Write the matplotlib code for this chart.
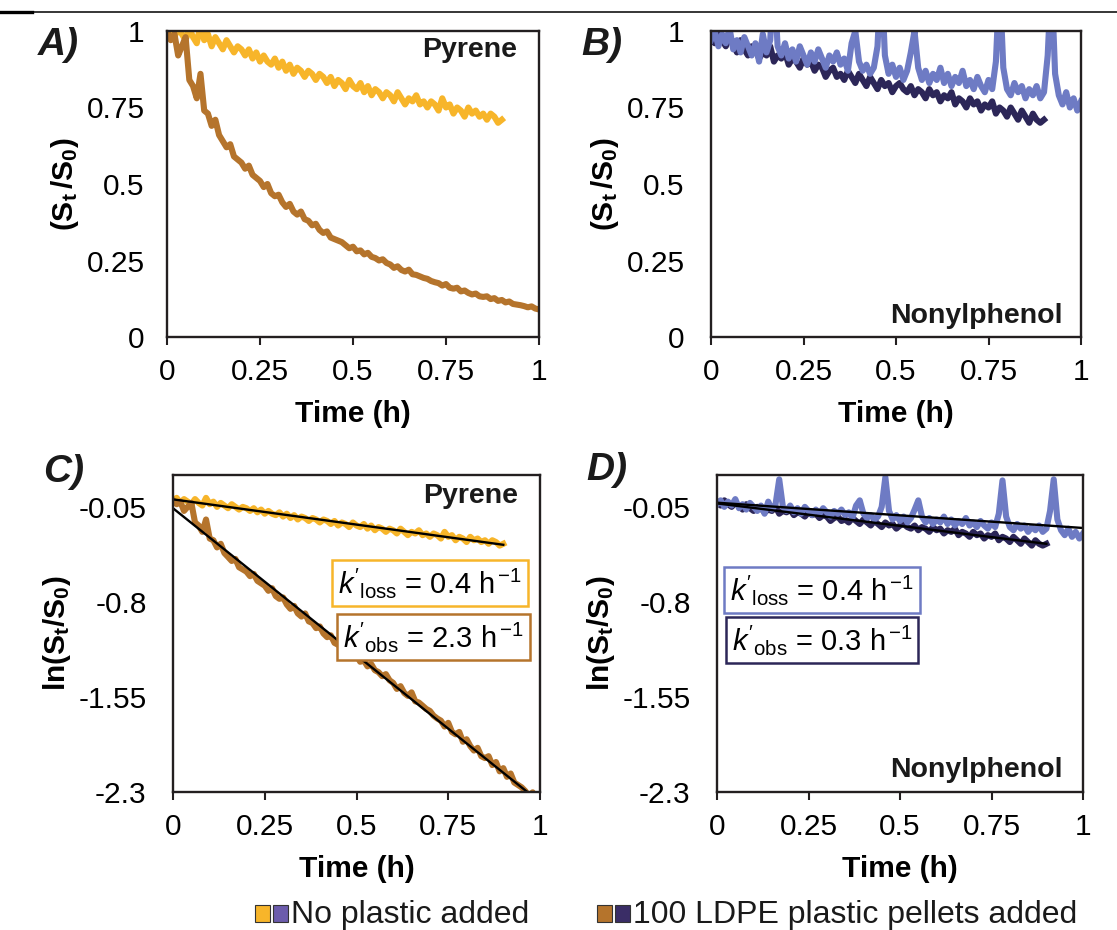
import numpy as np
import matplotlib
matplotlib.use('Agg')
import matplotlib.pyplot as plt
from matplotlib.lines import Line2D
from matplotlib.patches import Rectangle

plt.rcParams['font.family'] = ['Liberation Sans', 'DejaVu Sans']
plt.rcParams['mathtext.fontset'] = 'custom'
plt.rcParams['mathtext.rm'] = 'Liberation Sans'
plt.rcParams['mathtext.it'] = 'Liberation Sans:italic'
plt.rcParams['mathtext.bf'] = 'Liberation Sans:bold'
plt.rcParams['axes.unicode_minus'] = False

# time axis, one reading every 0.01 h
t_short = np.round(np.arange(0, 0.905, 0.01), 2)
t_long = np.round(np.arange(0, 1.005, 0.01), 2)

# pyrene, no plastic (St/S0), 0 - 0.90 h
pyr_noplastic = [1.00, 1.02, 0.98, 1.01, 0.99, 0.97, 1.01, 0.98, 0.96, 1.02,
                 0.97, 0.99, 0.95, 0.98, 0.96, 0.94, 0.97, 0.95, 0.93, 0.95,
                 0.94, 0.92, 0.94, 0.91, 0.93, 0.90, 0.92, 0.90, 0.89, 0.91,
                 0.88, 0.90, 0.87, 0.89, 0.86, 0.88, 0.87, 0.85, 0.87, 0.86,
                 0.84, 0.86, 0.85, 0.83, 0.85, 0.82, 0.84, 0.83, 0.81, 0.84,
                 0.82, 0.81, 0.83, 0.80, 0.82, 0.79, 0.81, 0.80, 0.78, 0.80,
                 0.79, 0.77, 0.80, 0.78, 0.76, 0.78, 0.77, 0.79, 0.76, 0.77,
                 0.75, 0.77, 0.76, 0.74, 0.78, 0.75, 0.76, 0.73, 0.75, 0.74,
                 0.72, 0.75, 0.73, 0.74, 0.72, 0.73, 0.71, 0.73, 0.72, 0.70,
                 0.71]

# pyrene, 100 LDPE pellets (St/S0), 0 - 1.00 h
pyr_plastic = [1.00, 0.97, 0.99, 0.92, 0.95, 0.98, 0.84, 0.82, 0.78, 0.86,
               0.74, 0.73, 0.69, 0.71, 0.66, 0.64, 0.62, 0.63, 0.59, 0.58,
               0.57, 0.55, 0.56, 0.53, 0.52,
               0.51, 0.49, 0.50, 0.47, 0.46, 0.465, 0.44, 0.425, 0.435, 0.41,
               0.40, 0.41, 0.385, 0.38, 0.365, 0.37, 0.35, 0.34, 0.345, 0.325,
               0.32, 0.315, 0.31, 0.30, 0.29, 0.295, 0.28, 0.283, 0.27, 0.275,
               0.262, 0.258, 0.25, 0.254, 0.242,
               0.237, 0.226, 0.231, 0.219, 0.214, 0.220, 0.205, 0.203, 0.198, 0.193,
               0.190, 0.183, 0.179, 0.176, 0.168, 0.173, 0.161, 0.158, 0.161, 0.149,
               0.152, 0.144, 0.139, 0.142, 0.133, 0.131, 0.133, 0.124, 0.127, 0.118,
               0.121, 0.113, 0.116, 0.108, 0.106, 0.104, 0.101, 0.097, 0.100, 0.093,
               0.090]

# nonylphenol, no plastic (St/S0), 0 - 1.00 h
nph_noplastic = [0.97, 1.00, 0.95, 0.99, 0.96, 1.01, 0.94, 0.97, 0.93, 0.98,
                 0.95, 0.92, 0.96, 0.90, 0.99, 0.93, 0.97, 1.18, 0.95, 0.92,
                 0.96, 0.91, 0.94, 0.90, 0.95, 0.92, 0.89, 0.93, 0.90, 0.94,
                 0.91, 0.88, 0.92, 0.90, 0.93, 0.89, 0.91, 0.87, 0.96, 1.00,
                 0.90, 0.87, 0.89, 0.86, 0.88, 0.95, 1.20, 0.92, 0.86, 0.89,
                 0.85, 0.88, 0.84, 0.87, 0.93, 1.00, 0.88, 0.84, 0.87, 0.83,
                 0.86, 0.84, 0.88, 0.83, 0.86, 0.82, 0.85, 0.83, 0.87, 0.82,
                 0.84, 0.81, 0.85, 0.82, 0.80, 0.84, 0.81, 0.90, 1.17, 0.88,
                 0.81, 0.79, 0.83, 0.80, 0.82, 0.78, 0.81, 0.79, 0.82, 0.78,
                 0.80, 0.92, 1.18, 0.86, 0.79, 0.76, 0.80, 0.75, 0.78, 0.74,
                 0.77]

# nonylphenol, 100 LDPE pellets (St/S0), 0 - 0.90 h
nph_plastic = [0.99, 0.96, 1.00, 0.97, 0.95, 0.98, 0.96, 0.93, 0.97, 0.94,
               0.92, 0.95, 0.94, 0.91, 0.93, 0.92, 0.95, 0.90, 0.92, 0.91,
               0.93, 0.89, 0.91, 0.90, 0.88, 0.91, 0.89, 0.90, 0.87, 0.89,
               0.88, 0.85, 0.87, 0.88, 0.85, 0.86, 0.84, 0.87, 0.85, 0.83,
               0.86, 0.84, 0.82, 0.85, 0.83, 0.81, 0.84, 0.82, 0.83, 0.80,
               0.82, 0.83, 0.81, 0.80, 0.82, 0.79, 0.81, 0.80, 0.78, 0.81,
               0.79, 0.80, 0.77, 0.79, 0.78, 0.80, 0.76, 0.78, 0.77, 0.75,
               0.78, 0.76, 0.77, 0.74, 0.76, 0.75, 0.77, 0.73, 0.75, 0.74,
               0.72, 0.75, 0.73, 0.71, 0.74, 0.72, 0.70, 0.73, 0.71, 0.70,
               0.71]

x_ticks = [0, 0.25, 0.5, 0.75, 1]
x_ticklabels = ['0', '0.25', '0.5', '0.75', '1']
ratio_ticks = [0, 0.25, 0.5, 0.75, 1]
ratio_ticklabels = ['0', '0.25', '0.5', '0.75', '1']
ln_ticks = [-2.3, -1.55, -0.8, -0.05]
ln_ticklabels = ['-2.3', '-1.55', '-0.8', '-0.05']

c_yellow = '#F7B52A'
c_brown = '#B5742C'
c_lblue = '#6E7BC4'
c_navy = '#2C2658'
c_spine = '#231F20'
LW = 4.4

W, H = 1117, 930
fig = plt.figure(figsize=(W / 100, H / 100), dpi=100)


def px_axes(left, top, right, bottom):
    return fig.add_axes([left / W, 1 - bottom / H, (right - left) / W, (bottom - top) / H])


def style(ax, ylab, yticks, yticklabels, ylim, ypad):
    ax.set_xlim(0, 1)
    ax.set_ylim(*ylim)
    ax.set_xticks(x_ticks)
    ax.set_xticklabels(x_ticklabels)
    ax.set_yticks(yticks)
    ax.set_yticklabels(yticklabels)
    ax.tick_params(axis='x', direction='out', length=6, width=1.5, pad=9,
                   labelsize=21.5, color=c_spine)
    ax.tick_params(axis='y', length=0, pad=ypad, labelsize=21.5)
    for s in ax.spines.values():
        s.set_linewidth(1.7)
        s.set_color(c_spine)
    ax.set_xlabel('Time (h)', fontsize=21.5, fontweight='bold', labelpad=10)
    ax.set_ylabel(ylab, fontsize=21.5, labelpad=4)


lab_ratio = r'$\mathbf{(S_t\,/S_0)}$'
lab_ln = r'$\mathbf{ln(S_t/S_0)}$'

# A) pyrene ratio
axA = px_axes(167, 31, 539, 337)
axA.plot(t_short, pyr_noplastic, color=c_yellow, lw=LW)
axA.plot(t_long, pyr_plastic, color=c_brown, lw=LW)
style(axA, lab_ratio, ratio_ticks, ratio_ticklabels, (0, 1), 16)
axA.text(0.94, 0.915, 'Pyrene', transform=axA.transAxes, ha='right', va='baseline',
         fontsize=20.5, fontweight='bold', color='#1a1a1a')

# B) nonylphenol ratio
axB = px_axes(711, 31, 1081, 337)
axB.plot(t_short, nph_plastic, color=c_navy, lw=LW)
axB.plot(t_long, nph_noplastic, color=c_lblue, lw=LW)
style(axB, lab_ratio, ratio_ticks, ratio_ticklabels, (0, 1), 19)
axB.text(0.949, 0.046, 'Nonylphenol', transform=axB.transAxes, ha='right', va='baseline',
         fontsize=20.5, fontweight='bold', color='#1a1a1a')

# C) pyrene ln
axC = px_axes(173, 475, 540, 792)
ln_pyr_np = np.log(pyr_noplastic)
ln_pyr_p = np.log(pyr_plastic)
axC.plot(t_short, ln_pyr_np, color=c_yellow, lw=LW)
axC.plot(t_long, ln_pyr_p, color=c_brown, lw=LW)
fit = np.polyfit(t_short, ln_pyr_np, 1)
axC.plot(t_short, np.polyval(fit, t_short), color='black', lw=1.7)
fit = np.polyfit(t_long, ln_pyr_p, 1)
axC.plot(t_long, np.polyval(fit, t_long), color='black', lw=1.7)
style(axC, lab_ln, ln_ticks, ln_ticklabels, (-2.3, 0.2), 19)
axC.text(0.94, 0.912, 'Pyrene', transform=axC.transAxes, ha='right', va='baseline',
         fontsize=20.5, fontweight='bold', color='#1a1a1a')
axC.text(0.70, 0.66, r"$k'_{\mathrm{loss}}$ = 0.4 h$^{\,\mathrm{-1}}$", transform=axC.transAxes,
         ha='center', va='center', fontsize=21,
         bbox=dict(boxstyle='square,pad=0.2', fc='white', ec=c_yellow, lw=1.8))
axC.text(0.71, 0.49, r"$k'_{\mathrm{obs}}$ = 2.3 h$^{\,\mathrm{-1}}$", transform=axC.transAxes,
         ha='center', va='center', fontsize=21,
         bbox=dict(boxstyle='square,pad=0.2', fc='white', ec=c_brown, lw=1.8))

# D) nonylphenol ln
axD = px_axes(717, 475, 1083, 792)
ln_nph_np = np.log(nph_noplastic)
ln_nph_p = np.log(nph_plastic)
axD.plot(t_short, ln_nph_p, color=c_navy, lw=LW)
axD.plot(t_long, ln_nph_np, color=c_lblue, lw=LW)
fit = np.polyfit(t_long, ln_nph_np, 1)
axD.plot(t_long, np.polyval(fit, t_long), color='black', lw=1.7)
fit = np.polyfit(t_short, ln_nph_p, 1)
axD.plot(t_short, np.polyval(fit, t_short), color='black', lw=1.7)
style(axD, lab_ln, ln_ticks, ln_ticklabels, (-2.3, 0.2), 19)
axD.text(0.945, 0.047, 'Nonylphenol', transform=axD.transAxes, ha='right', va='baseline',
         fontsize=20.5, fontweight='bold', color='#1a1a1a')
axD.text(0.287, 0.637, r"$k'_{\mathrm{loss}}$ = 0.4 h$^{\,\mathrm{-1}}$", transform=axD.transAxes,
         ha='center', va='center', fontsize=21,
         bbox=dict(boxstyle='square,pad=0.2', fc='white', ec=c_lblue, lw=1.8))
axD.text(0.287, 0.48, r"$k'_{\mathrm{obs}}$ = 0.3 h$^{\,\mathrm{-1}}$", transform=axD.transAxes,
         ha='center', va='center', fontsize=21,
         bbox=dict(boxstyle='square,pad=0.2', fc='white', ec=c_navy, lw=1.8))

# panel letters
for lab, x, y in [('A)', 38, 45), ('B)', 581, 45), ('C)', 43, 472), ('D)', 586, 470)]:
    fig.text(x / W, 1 - y / H, lab, ha='left', va='center', fontsize=28,
             fontweight='bold', fontstyle='italic', color='#1a1a1a')

# rule across the top
fig.add_artist(Line2D([0, 1], [1 - 12 / H, 1 - 12 / H], color='black', lw=1.1))
fig.add_artist(Line2D([0, 32 / W], [1 - 12 / H, 1 - 12 / H], color='black', lw=2.4))

# legend at the bottom
legend_items = [([c_yellow, '#6C5CAC'], 255, 'No plastic added'),
                ([c_brown, '#3A2D66'], 597, '100 LDPE plastic pellets added')]
for cols, x0, txt in legend_items:
    for i, c in enumerate(cols):
        fig.add_artist(Rectangle(((x0 + i * 18) / W, 1 - 922 / H), 15 / W, 17 / H,
                                 facecolor=c, edgecolor='#333333', lw=0.8))
    fig.text((x0 + 36) / W, 1 - 923 / H, txt, ha='left', va='baseline', fontsize=23,
             color='#1a1a1a')

fig.savefig('out.png', dpi=100)
